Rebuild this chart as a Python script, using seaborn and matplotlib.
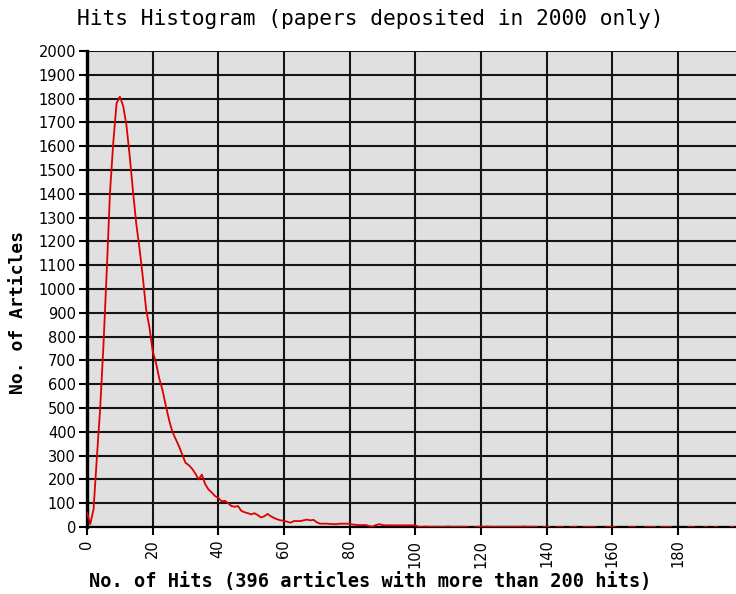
import numpy as np
import pandas as pd
import seaborn as sns
import matplotlib
matplotlib.use("Agg")
import matplotlib.pyplot as plt

# hit counts 0..199 -> number of articles
hits = list(range(200))
articles_0_100 = [
    60, 12, 75, 291, 496, 760, 1070, 1405, 1615, 1780,
    1808, 1770, 1690, 1560, 1412, 1275, 1170, 1050, 915, 840,
    740, 690, 625, 575, 510, 450, 400, 370, 340, 305,
    270, 260, 245, 225, 200, 220, 180, 158, 145, 130,
    122, 108, 110, 100, 88, 85, 88, 68, 62, 58,
    53, 58, 50, 40, 45, 55, 45, 38, 32, 28,
    26, 22, 18, 25, 25, 25, 28, 31, 28, 30,
    20, 14, 14, 14, 13, 12, 12, 14, 14, 14,
    14, 10, 9, 8, 8, 8, 4, 2, 8, 12,
    8, 7, 7, 7, 7, 7, 7, 7, 7, 7,
]
# tail 100..199: mostly 0, 1 or 2 articles
articles_tail = [
    7, 1, 1, 2, 1, 1, 1, 1, 1, 1,      # 100-109
    2, 1, 1, 1, 1, 1, 1, 0, 1, 1,      # 110-119
    1, 1, 2, 1, 1, 1, 1, 1, 1, 1,      # 120-129
    1, 1, 1, 2, 1, 1, 1, 1, 0, 1,      # 130-139
    1, 1, 0, 1, 1, 1, 0, 1, 1, 1,      # 140-149
    0, 1, 1, 1, 1, 1, 0, 0, 1, 1,      # 150-159
    1, 1, 0, 0, 0, 1, 1, 1, 0, 0,      # 160-169
    1, 1, 1, 1, 0, 1, 1, 1, 1, 0,      # 170-179
    0, 0, 0, 1, 1, 1, 0, 0, 1, 1,      # 180-189
    0, 1, 1, 0, 0, 0, 1, 1, 0, 0,      # 190-199
]
articles = articles_0_100 + articles_tail

title = "Hits Histogram (papers deposited in 2000 only)"
xlabel = "No. of Hits (396 articles with more than 200 hits)"
ylabel = "No. of Articles"

df = pd.DataFrame({"hits": hits, "articles": articles})
# zero bins are not drawn: split the line into runs of non-zero bins
df["run"] = (df["articles"] == 0).cumsum()
df = df[df["articles"] > 0]

sns.set_theme(style="ticks")
plt.rcParams["font.family"] = ["DejaVu Sans"]
plt.rcParams["text.color"] = "black"

fig = plt.figure(figsize=(7.36, 5.94), dpi=100)
ax = fig.add_axes([87 / 736, 1 - 527 / 594, 1 - 87 / 736, (527 - 51) / 594])
ax.set_facecolor("#e0e0e0")

sns.lineplot(data=df, x="hits", y="articles", units="run", estimator=None,
             color="#dd0000", linewidth=1.3, ax=ax, zorder=4)

ax.set_xlim(0, 197.7)
ax.set_ylim(0, 2000)
ax.set_xticks(range(0, 200, 20))
ax.set_yticks(range(0, 2001, 100))
ax.grid(True, color="#151515", linewidth=1.5)
ax.set_axisbelow(True)

for side in ["top", "right"]:
    ax.spines[side].set_visible(False)
ax.spines["left"].set_linewidth(2.4)
ax.spines["left"].set_color("black")
ax.spines["bottom"].set_linewidth(1.6)
ax.spines["bottom"].set_color("black")
ax.spines["left"].set_zorder(3)
ax.spines["bottom"].set_zorder(3)

ax.tick_params(axis="both", colors="black", length=6, width=1.5,
               labelsize=10.5, direction="out")
ax.tick_params(axis="x", rotation=90, pad=3)
ax.tick_params(axis="y", pad=2)

ax.set_xlabel("")
ax.set_ylabel("")
fig.text(370 / 736, 1 - 582 / 594, xlabel, ha="center", va="center", color="black",
         family="DejaVu Sans Mono", fontweight="bold", fontsize=13.4)
fig.text(18 / 736, 1 - 312 / 594, ylabel, ha="center", va="center", color="black",
         rotation=90, family="DejaVu Sans Mono", fontweight="bold", fontsize=13)
fig.text(370 / 736, 1 - 19 / 594, title, ha="center", va="center", color="black",
         family="DejaVu Sans Mono", fontsize=15.3)

fig.savefig("out.png", dpi=100, facecolor="white")
